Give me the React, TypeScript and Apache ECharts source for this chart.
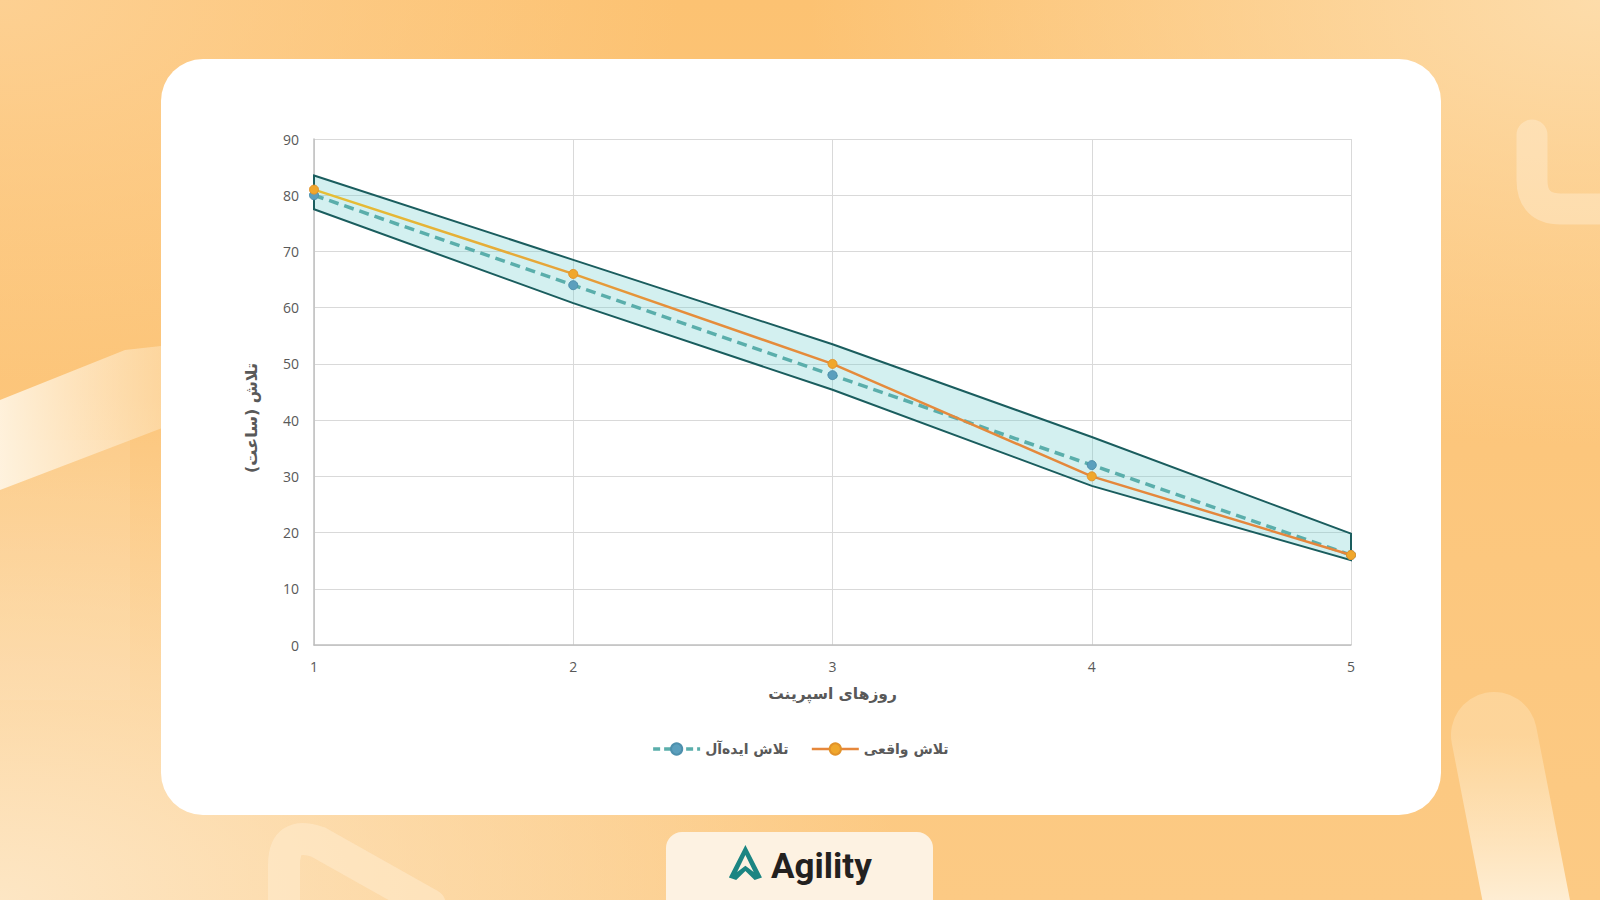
import React, { useEffect, useRef } from "react";
import * as echarts from "echarts";

const days = [1, 2, 3, 4, 5];
const idealEffort = [80, 64, 48, 32, 16];
const actualEffort = [81, 66, 50, 30, 16];
const bandUpper = [83.5, 68.5, 53.5, 37, 19.8];
const bandLower = [77.5, 60.8, 45.4, 28.3, 15.1];
const yTicks = { min: 0, max: 90, interval: 10 };

const idealName = "تلاش ایده‌آل";
const actualName = "تلاش واقعی";
const xName = "روزهای اسپرینت";
const yName = "تلاش (ساعت)";

const logoD =
  "M20 0 L38 36 L30 39 L20 29 L10 39 L2 36 Z M20 11 L11 30 L20 23 L29 30 Z";
const hookTopRight = "M1532 135 L1532 180 Q1532 209 1561 209 L1620 209";
const hookBottomLeft = "M284 910 L284 865 Q284 830 318 842 L430 905";
const barBottomRight = "M1494 735 L1532 930";

export default function App() {
  const ref = useRef<HTMLDivElement>(null);

  useEffect(() => {
    if (!ref.current) return;
    try {
      echarts.graphic.registerShape("logo", echarts.graphic.extendPath(logoD as any, {}) as any);
      echarts.graphic.registerShape("hookTR", echarts.graphic.extendPath(hookTopRight as any, {}) as any);
      echarts.graphic.registerShape("hookBL", echarts.graphic.extendPath(hookBottomLeft as any, {}) as any);
      echarts.graphic.registerShape("barBR", echarts.graphic.extendPath(barBottomRight as any, {}) as any);
    } catch (e) {}
    const chart = echarts.init(ref.current, undefined, { renderer: "svg" });
    const font = "'Open Sans', 'DejaVu Sans', sans-serif";
    const fa = "'DejaVu Sans', sans-serif";
    const option: any = {
      animation: false,
      backgroundColor: "transparent",
      textStyle: { fontFamily: font },
      graphic: [
        // decorative background shapes
        {
          type: "polygon",
          z: -20,
          shape: { points: [[0, 400], [125, 350], [170, 345], [170, 425], [0, 490]] },
          style: {
            fill: new echarts.graphic.LinearGradient(0, 0, 1, 0, [
              { offset: 0, color: "rgba(255,248,235,0.85)" },
              { offset: 1, color: "rgba(255,240,215,0.35)" },
            ]),
          },
        },
        {
          type: "rect",
          z: -21,
          shape: { x: 0, y: 440, width: 130, height: 260 },
          style: { fill: "rgba(255,240,215,0.12)" },
        },
        {
          type: "hookTR",
          z: -20,
          style: { fill: "none", stroke: "rgba(255,238,210,0.45)", lineWidth: 31, lineCap: "round" },
        },
        {
          type: "hookBL",
          z: -20,
          style: { fill: "none", stroke: "rgba(255,238,210,0.5)", lineWidth: 32, lineCap: "round" },
        },
        {
          type: "barBR",
          z: -20,
          style: {
            fill: "none",
            lineWidth: 86,
            lineCap: "round",
            stroke: new echarts.graphic.LinearGradient(0, 0, 0, 1, [
              { offset: 0, color: "rgba(255,235,200,0.35)" },
              { offset: 1, color: "rgba(255,250,240,0.85)" },
            ]),
          },
        },
        // card
        {
          type: "rect",
          z: -10,
          shape: { x: 161, y: 59, width: 1280, height: 756, r: 42 },
          style: { fill: "#ffffff" },
        },
        // logo box
        {
          type: "rect",
          z: -10,
          shape: { x: 666, y: 832, width: 267, height: 90, r: 16 },
          style: { fill: "#fdf2e2" },
        },
        {
          type: "logo",
          z: -5,
          x: 727,
          y: 845,
          scaleX: 0.92,
          scaleY: 0.9,
          style: { fill: "#1b8582" },
        },
        {
          type: "text",
          z: -5,
          x: 771,
          y: 866,
          style: {
            text: "Agility",
            fill: "#23211f",
            font: "bold 35px Roboto, 'DejaVu Sans', sans-serif",
            verticalAlign: "middle",
            textAlign: "left",
          },
        },
        // y-axis title
        {
          type: "text",
          x: 251,
          y: 418,
          rotation: Math.PI / 2,
          style: {
            text: yName,
            fill: "#595959",
            font: "bold 16px 'DejaVu Sans', sans-serif",
            textAlign: "center",
            verticalAlign: "middle",
          },
        },
      ],
      grid: { left: 314, right: 249, top: 139, bottom: 255, containLabel: false },
      legend: {
        data: [
          { name: idealName, lineStyle: { width: 3.5, type: [7, 4] } },
          {
            name: actualName,
            lineStyle: { color: "#e6873b", width: 2.5 },
            itemStyle: { color: "#f0a72c" },
          },
        ],
        left: "center",
        top: 737,
        itemWidth: 47,
        itemHeight: 14,
        itemGap: 22,
        textStyle: { color: "#595959", fontSize: 14, fontWeight: "bold", fontFamily: fa },
      },
      xAxis: {
        type: "value",
        min: 1,
        max: 5,
        interval: 1,
        name: xName,
        nameLocation: "middle",
        nameGap: 41,
        nameTextStyle: { color: "#595959", fontSize: 15.5, fontWeight: "bold", fontFamily: fa },
        axisLine: { show: true, lineStyle: { color: "#bfbfbf", width: 1.5 } },
        axisTick: { show: false },
        axisLabel: { color: "#595959", fontSize: 14, margin: 14 },
        splitLine: { show: true, lineStyle: { color: "#d9d9d9", width: 1 } },
      },
      yAxis: {
        type: "value",
        min: yTicks.min,
        max: yTicks.max,
        interval: yTicks.interval,
        axisLine: { show: true, lineStyle: { color: "#bfbfbf", width: 1.5 } },
        axisTick: { show: false },
        axisLabel: { color: "#595959", fontSize: 14, margin: 15 },
        splitLine: { show: true, lineStyle: { color: "#d9d9d9", width: 1 } },
      },
      series: [
        {
          type: "custom",
          name: "band",
          silent: true,
          z: 1,
          data: [[1, 0]],
          renderItem: (params: any, api: any) => {
            const top = bandUpper.map((v, i) => api.coord([days[i], v]));
            const bot = bandLower.map((v, i) => api.coord([days[i], v])).reverse();
            return {
              type: "polygon",
              shape: { points: [...top, ...bot] },
              style: {
                fill: "rgba(110,205,205,0.3)",
                stroke: "#1a5d5e",
                lineWidth: 2,
              },
            };
          },
        },
        {
          type: "line",
          name: idealName,
          z: 3,
          data: days.map((d, i) => [d, idealEffort[i]]),
          symbol: "circle",
          symbolSize: 9,
          showSymbol: true,
          color: "#5b9fbd",
          itemStyle: { color: "#5b9fbd", borderColor: "#4e90ad", borderWidth: 1 },
          lineStyle: { color: "#5aaeab", width: 3.5, type: [10, 6] },
        },
        {
          type: "line",
          name: actualName,
          z: 4,
          data: days.map((d, i) => [d, actualEffort[i]]),
          symbol: "circle",
          symbolSize: 9,
          showSymbol: true,
          color: "#f0a72c",
          itemStyle: { color: "#f0a72c", borderColor: "#e2932a", borderWidth: 1 },
          lineStyle: {
            width: 2.5,
            color: new echarts.graphic.LinearGradient(0, 0, 1, 0, [
              { offset: 0, color: "#e5bf35" },
              { offset: 0.2, color: "#e6aa38" },
              { offset: 0.35, color: "#e58d3b" },
              { offset: 1, color: "#e4853c" },
            ]),
          },
        },
      ],
    };
    chart.setOption(option);
    return () => chart.dispose();
  }, []);

  return (
    <div
      style={{
        position: "fixed",
        left: 0,
        top: 0,
        width: 1600,
        height: 900,
        overflow: "hidden",
        background:
          "radial-gradient(ellipse at 0% 100%, #fde6c4 0%, rgba(253,230,196,0) 40%), radial-gradient(ellipse at 100% 0%, #fddcaa 0%, rgba(253,220,170,0) 35%), radial-gradient(ellipse at 0% 0%, #fdd092 0%, rgba(253,208,146,0) 30%), linear-gradient(180deg, #fcc272 0%, #fcc67c 50%, #fcca84 100%)",
      }}
    >
      <div ref={ref} style={{ width: 1600, height: 900 }} />
    </div>
  );
}
